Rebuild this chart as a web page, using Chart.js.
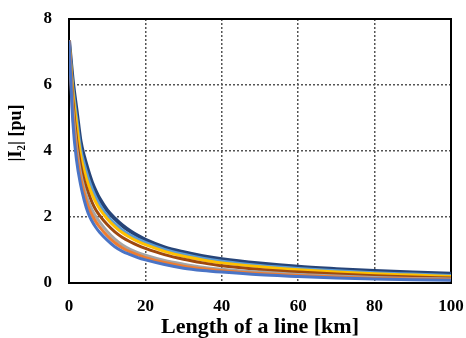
<!DOCTYPE html>
<html>
<head>
<meta charset="utf-8">
<script src="https://cdn.jsdelivr.net/npm/chart.js@4/dist/chart.umd.min.js"></script>
<style>
  html, body { margin: 0; padding: 0; background: #fff; }
  #wrap { width: 466px; height: 338px; }
</style>
</head>
<body>
<div id="wrap"><canvas id="myChart"></canvas></div>
<script>
// length of the line, km
var km = [0, 1, 2, 3, 4, 5, 6, 7, 8, 10, 12, 14, 16, 18, 20, 25, 30, 35, 40, 50, 60, 70, 80, 90, 100];

// |I2| in pu (top curve first)
var darkBlue  = [7.35, 6.1, 5.2, 4.3, 3.8, 3.4, 3.05, 2.78, 2.55, 2.2, 1.95, 1.74, 1.57, 1.43, 1.31, 1.08, 0.93, 0.81, 0.72, 0.59, 0.49, 0.42, 0.36, 0.32, 0.28];
var lightBlue = [7.35, 5.95, 5.0, 4.1, 3.6, 3.2, 2.87, 2.6, 2.38, 2.04, 1.8, 1.6, 1.45, 1.33, 1.23, 1.02, 0.87, 0.75, 0.66, 0.53, 0.44, 0.37, 0.31, 0.27, 0.23];
var gold      = [7.35, 5.8, 4.8, 3.9, 3.4, 3.0, 2.7, 2.45, 2.25, 1.95, 1.71, 1.52, 1.38, 1.26, 1.16, 0.96, 0.81, 0.7, 0.61, 0.49, 0.40, 0.33, 0.28, 0.24, 0.20];
var brown     = [7.35, 5.55, 4.35, 3.6, 3.1, 2.75, 2.45, 2.22, 2.05, 1.77, 1.55, 1.38, 1.25, 1.14, 1.05, 0.86, 0.72, 0.61, 0.52, 0.41, 0.33, 0.27, 0.22, 0.18, 0.15];
var gray      = [7.35, 5.3, 4.1, 3.35, 2.85, 2.5, 2.22, 2.02, 1.85, 1.56, 1.33, 1.15, 1.02, 0.92, 0.84, 0.68, 0.57, 0.48, 0.42, 0.33, 0.26, 0.21, 0.17, 0.14, 0.12];
var orange    = [7.35, 5.1, 3.9, 3.2, 2.7, 2.32, 2.06, 1.86, 1.7, 1.43, 1.22, 1.06, 0.94, 0.85, 0.77, 0.62, 0.51, 0.43, 0.37, 0.29, 0.23, 0.18, 0.14, 0.12, 0.10];
var blue      = [7.35, 4.9, 3.7, 3.0, 2.5, 2.12, 1.88, 1.69, 1.54, 1.3, 1.1, 0.96, 0.86, 0.77, 0.70, 0.56, 0.45, 0.38, 0.33, 0.25, 0.20, 0.15, 0.12, 0.10, 0.08];

var xTicks = [0, 20, 40, 60, 80, 100];
var yTicks = [0, 2, 4, 6, 8];

function pts(arr) {
    return arr.map(function (v, i) { return { x: km[i], y: v }; });
}

function line(arr, color, w) {
    return {
        data: pts(arr),
        borderColor: color,
        borderWidth: w,
        pointRadius: 0,
        fill: false,
        cubicInterpolationMode: 'monotone'
    };
}

// plot frame, drawn under the curves
var frame = {
    id: 'frame',
    beforeDatasetsDraw: function (chart) {
        var a = chart.chartArea, c = chart.ctx;
        c.save();
        c.strokeStyle = '#000';
        c.lineWidth = 2;
        c.strokeRect(a.left, a.top, a.right - a.left, a.bottom - a.top);
        c.restore();
    }
};

var serif = "'Liberation Serif', 'Times New Roman', serif";
var tickFont = { family: serif, size: 17, weight: 'bold' };
var nb = '\u00a0';

var ctx = document.getElementById("myChart").getContext("2d");
var myLineChart = new Chart(ctx, {
    type: 'line',
    data: {
        datasets: [
            line(blue, '#4a74c6', 3),
            line(orange, '#ed7d31', 3),
            line(gray, '#a5a5a5', 3),
            line(brown, '#9e480e', 3),
            line(gold, '#ffc000', 3),
            line(lightBlue, '#5b9bd5', 3),
            line(darkBlue, '#264478', 4)
        ]
    },
    options: {
        responsive: true,
        maintainAspectRatio: false,
        animation: false,
        layout: { padding: { top: 19, right: 15, left: 0, bottom: 0 } },
        plugins: { legend: { display: false }, tooltip: { enabled: false } },
        scales: {
            x: {
                type: 'linear',
                min: 0, max: 100,
                afterBuildTicks: function (s) { s.ticks = xTicks.map(function (v) { return { value: v }; }); },
                afterFit: function (s) { s.height = 55; s.paddingLeft = 0; s.paddingRight = 0; },
                grid: {
                    color: function (c) { return (c.tick.value === 0 || c.tick.value === 100) ? 'rgba(0,0,0,0)' : '#555'; },
                    lineWidth: 1.5,
                    drawTicks: false
                },
                border: { display: false, dash: [2, 2] },
                ticks: { color: '#000', font: tickFont, padding: 13, maxRotation: 0 },
                title: {
                    display: true,
                    text: 'Length of a line [km]',
                    color: '#000',
                    font: { family: serif, size: 22, weight: 'bold' },
                    padding: { top: 0, bottom: -3 }
                }
            },
            y: {
                min: 0, max: 8,
                afterBuildTicks: function (s) { s.ticks = yTicks.map(function (v) { return { value: v }; }); },
                afterFit: function (s) { s.width = 69; s.paddingTop = 0; s.paddingBottom = 0; },
                grid: {
                    color: function (c) { return (c.tick.value === 0 || c.tick.value === 8) ? 'rgba(0,0,0,0)' : '#555'; },
                    lineWidth: 1.5,
                    drawTicks: false
                },
                border: { display: false, dash: [2, 2] },
                ticks: { color: '#000', font: tickFont, padding: 17 },
                title: {
                    display: true,
                    // leading spaces lift the label above the axis middle, as in the original
                    text: nb.repeat(8) + '|I\u2082| [pu]',
                    color: '#000',
                    font: { family: serif, size: 18, weight: 'bold' },
                    padding: { top: 6, bottom: 0 }
                }
            }
        }
    },
    plugins: [frame]
});
</script>
</body>
</html>
